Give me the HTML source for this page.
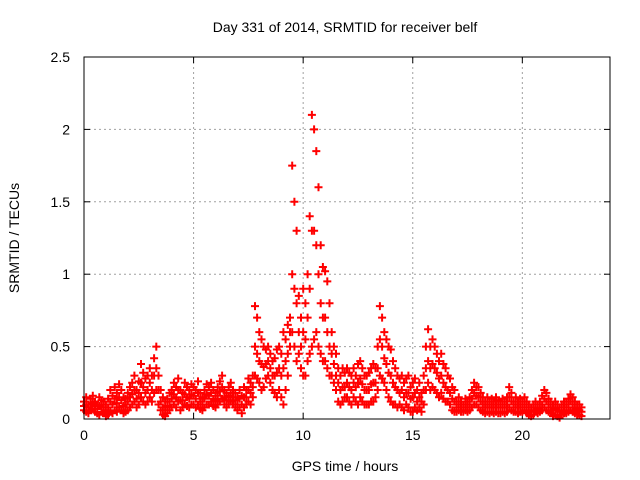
<!DOCTYPE html>
<html><head><meta charset="utf-8"><style>
body{margin:0;background:#fff;}
svg{display:block;font-family:"Liberation Sans",sans-serif;}
</style></head><body>
<svg id="chart" width="640" height="480">
<text x="345" y="32" text-anchor="middle" font-size="14">Day 331 of 2014, SRMTID for receiver belf</text>
<text x="345" y="471" text-anchor="middle" font-size="14">GPS time / hours</text>
<text x="19" y="238" text-anchor="middle" font-size="14" transform="rotate(-90 19 238)">SRMTID / TECUs</text>
<g id="grid"></g><g id="ticks"></g><g id="marks"></g>
<rect x="84" y="57" width="526" height="362" fill="none" stroke="#000" stroke-width="1"/>
</svg>
<script>
const xTicks=[0,5,10,15,20];
const yTicks=[0,0.5,1,1.5,2,2.5];
const yTickLabels=["0","0.5","1","1.5","2","2.5"];
const step=0.1;
const hi=[0.12,0.15,0.1,0.14,0.16,0.12,0.1,0.15,0.13,0.12,
0.1,0.14,0.2,0.16,0.22,0.18,0.24,0.2,0.15,0.14,
0.18,0.22,0.25,0.3,0.2,0.26,0.38,0.32,0.28,0.3,
0.35,0.3,0.42,0.5,0.3,0.2,0.15,0.12,0.14,0.18,
0.2,0.25,0.22,0.28,0.2,0.18,0.25,0.22,0.2,0.24,
0.22,0.2,0.26,0.18,0.15,0.2,0.24,0.22,0.25,0.2,
0.18,0.22,0.26,0.3,0.2,0.18,0.22,0.25,0.2,0.18,
0.15,0.2,0.16,0.22,0.2,0.28,0.25,0.3,0.78,0.7,
0.6,0.55,0.5,0.48,0.5,0.45,0.4,0.42,0.48,0.5,
0.45,0.6,0.55,0.65,0.7,1.75,1.5,1.3,0.85,0.7,
0.9,0.8,1.0,1.4,2.1,2.0,1.85,1.6,1.2,1.05,
1.02,0.95,0.8,0.6,0.5,0.45,0.35,0.3,0.35,0.32,
0.35,0.32,0.3,0.35,0.3,0.38,0.4,0.35,0.3,0.3,
0.32,0.35,0.38,0.35,0.5,0.78,0.7,0.6,0.55,0.5,
0.48,0.4,0.35,0.3,0.28,0.3,0.25,0.28,0.3,0.22,
0.25,0.28,0.2,0.25,0.18,0.3,0.5,0.62,0.5,0.55,
0.5,0.45,0.4,0.45,0.38,0.35,0.3,0.28,0.22,0.2,
0.12,0.15,0.12,0.1,0.14,0.12,0.15,0.2,0.25,0.22,
0.22,0.18,0.15,0.12,0.15,0.12,0.14,0.12,0.15,0.13,
0.12,0.14,0.12,0.15,0.22,0.18,0.12,0.15,0.12,0.14,
0.12,0.15,0.12,0.1,0.08,0.1,0.12,0.1,0.12,0.16,
0.2,0.18,0.14,0.12,0.1,0.12,0.1,0.08,0.1,0.12,
0.12,0.14,0.17,0.15,0.12,0.1,0.1,0.08];
const mid=[0.09,0.1,0.08,0.1,0.11,0.09,0.07,0.09,0.08,0.08,
0.06,0.08,0.12,0.1,0.14,0.11,0.15,0.13,0.09,0.1,
0.12,0.15,0.17,0.2,0.14,0.18,0.25,0.22,0.18,0.2,
0.25,0.2,0.3,0.35,0.2,0.12,0.08,0.06,0.09,0.12,
0.14,0.17,0.15,0.2,0.13,0.13,0.17,0.15,0.14,0.17,
0.16,0.14,0.18,0.12,0.1,0.14,0.17,0.16,0.18,0.14,
0.13,0.16,0.19,0.22,0.15,0.13,0.16,0.18,0.15,0.13,
0.1,0.14,0.1,0.15,0.15,0.2,0.18,0.22,0.5,0.45,
0.4,0.38,0.36,0.38,0.4,0.35,0.3,0.3,0.32,0.35,
0.3,0.35,0.4,0.45,0.6,1.0,0.9,0.8,0.6,0.5,
0.6,0.55,0.7,0.9,1.3,1.3,1.2,1.0,0.8,0.7,
0.7,0.6,0.5,0.45,0.38,0.3,0.25,0.2,0.22,0.22,
0.25,0.22,0.2,0.25,0.22,0.25,0.28,0.24,0.2,0.2,
0.2,0.24,0.25,0.25,0.35,0.55,0.5,0.42,0.38,0.32,
0.3,0.25,0.22,0.2,0.18,0.2,0.15,0.18,0.18,0.14,
0.15,0.18,0.12,0.15,0.12,0.2,0.35,0.4,0.35,0.38,
0.35,0.32,0.28,0.3,0.25,0.22,0.2,0.18,0.14,0.12,
0.08,0.1,0.08,0.08,0.1,0.08,0.1,0.14,0.18,0.16,
0.15,0.12,0.1,0.08,0.1,0.08,0.1,0.08,0.1,0.08,
0.08,0.1,0.08,0.1,0.15,0.12,0.08,0.1,0.08,0.1,
0.08,0.1,0.08,0.06,0.05,0.06,0.08,0.07,0.08,0.1,
0.14,0.12,0.1,0.08,0.06,0.07,0.06,0.05,0.06,0.08,
0.08,0.1,0.12,0.1,0.08,0.07,0.06,0.05];
const lo=[0.06,0.05,0.04,0.06,0.07,0.05,0.04,0.03,0.05,0.04,
0.02,0.03,0.05,0.04,0.06,0.05,0.08,0.06,0.04,0.05,
0.06,0.08,0.1,0.12,0.08,0.1,0.15,0.12,0.1,0.12,
0.15,0.12,0.18,0.2,0.1,0.06,0.03,0.02,0.04,0.06,
0.08,0.1,0.08,0.12,0.06,0.08,0.1,0.09,0.08,0.1,
0.1,0.08,0.1,0.07,0.06,0.08,0.1,0.1,0.12,0.09,
0.08,0.1,0.12,0.14,0.1,0.08,0.1,0.12,0.1,0.08,
0.06,0.08,0.04,0.08,0.1,0.12,0.1,0.15,0.3,0.28,
0.25,0.2,0.22,0.28,0.3,0.25,0.2,0.18,0.15,0.2,
0.15,0.1,0.2,0.3,0.5,0.6,0.5,0.4,0.45,0.35,
0.3,0.3,0.4,0.45,0.5,0.55,0.6,0.5,0.45,0.4,
0.4,0.35,0.3,0.3,0.25,0.2,0.12,0.1,0.12,0.15,
0.15,0.12,0.1,0.15,0.12,0.1,0.15,0.12,0.1,0.1,
0.1,0.12,0.12,0.15,0.2,0.3,0.28,0.25,0.2,0.15,
0.12,0.1,0.1,0.08,0.1,0.08,0.06,0.1,0.08,0.05,
0.05,0.08,0.06,0.08,0.05,0.1,0.2,0.25,0.2,0.22,
0.2,0.18,0.15,0.18,0.14,0.12,0.12,0.1,0.06,0.05,
0.05,0.06,0.05,0.05,0.06,0.05,0.06,0.08,0.1,0.1,
0.08,0.06,0.05,0.04,0.05,0.04,0.05,0.04,0.05,0.04,
0.04,0.05,0.04,0.05,0.08,0.06,0.05,0.05,0.04,0.05,
0.05,0.06,0.04,0.03,0.02,0.03,0.05,0.04,0.05,0.06,
0.08,0.06,0.05,0.04,0.02,0.03,0.02,0.01,0.03,0.04,
0.04,0.05,0.06,0.05,0.04,0.03,0.03,0.02];

const NS="http://www.w3.org/2000/svg";
const X0=84,X1=610,Y0=419,Y1=57,XMAX=24,YMAX=2.5;
function xs(v){return X0+(X1-X0)*v/XMAX;}
function ys(v){return Y0-(Y0-Y1)*v/YMAX;}
function mk(tag,attrs,parent){const e=document.createElementNS(NS,tag);for(const k in attrs)e.setAttribute(k,attrs[k]);parent.appendChild(e);return e;}
const grid=document.getElementById('grid'),ticks=document.getElementById('ticks'),marks=document.getElementById('marks');
xTicks.forEach((t,i)=>{
  const x=xs(t);
  if(t>0){const g=mk('line',{x1:x,x2:x,y1:Y1,y2:Y0,stroke:'#a0a0a0','stroke-dasharray':'2,3'},grid);
  
  }
  mk('line',{x1:x,x2:x,y1:Y0,y2:Y0-6,stroke:'#000'},ticks);
  mk('line',{x1:x,x2:x,y1:Y1,y2:Y1+6,stroke:'#000'},ticks);
  const tx=mk('text',{x:x,y:Y0+21,'text-anchor':'middle','font-size':14},ticks);
  tx.textContent=String(t);
  
  
});
yTicks.forEach((t,i)=>{
  const y=ys(t);
  if(t>0&&t<YMAX){const g=mk('line',{x1:X0,x2:X1,y1:y,y2:y,stroke:'#a0a0a0','stroke-dasharray':'2,3'},grid);
  
  }
  mk('line',{x1:X0,x2:X0+6,y1:y,y2:y,stroke:'#000'},ticks);
  mk('line',{x1:X1,x2:X1-6,y1:y,y2:y,stroke:'#000'},ticks);
  const tx=mk('text',{x:X0-14,y:y+5,'text-anchor':'end','font-size':14},ticks);
  tx.textContent=yTickLabels[i];
  
  
});
let d='';
[hi,mid,lo].forEach(arr=>{
  arr.forEach((v,i)=>{
    const x=xs(i*step),y=ys(v);
    d+=`M${(x-4).toFixed(1)} ${y.toFixed(1)}h8M${x.toFixed(1)} ${(y-4).toFixed(1)}v8`;
  });
});
const p=mk('path',{d:d,stroke:'#ff0000','stroke-width':2,fill:'none'},marks);


</script>
</body></html>
